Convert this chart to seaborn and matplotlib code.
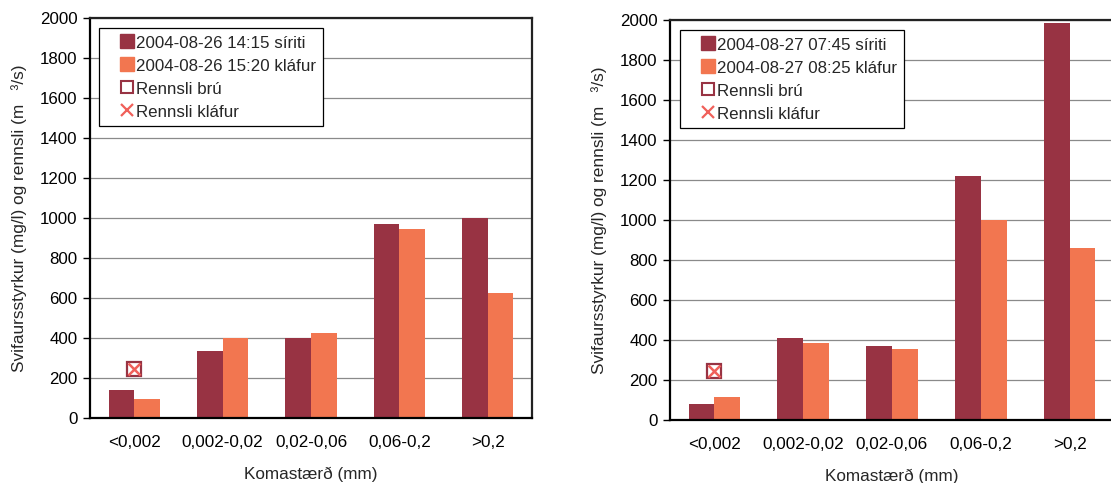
import matplotlib
matplotlib.use("Agg")
import matplotlib.pyplot as plt
from matplotlib.lines import Line2D
from matplotlib.legend_handler import HandlerLine2D
import seaborn as sns
import pandas as pd

# Grain size classes (mm)
categories = ["<0,002", "0,002-0,02", "0,02-0,06", "0,06-0,2", ">0,2"]

# 26 August 2004
series_a1_label = "2004-08-26 14:15 síriti"
series_a2_label = "2004-08-26 15:20 kláfur"
series_a1 = [140, 335, 400, 970, 1000]
series_a2 = [95, 400, 425, 945, 625]
flow_a_bridge = 245
flow_a_cable = 245

# 27 August 2004
series_b1_label = "2004-08-27 07:45 síriti"
series_b2_label = "2004-08-27 08:25 kláfur"
series_b1 = [80, 410, 370, 1220, 1985]
series_b2 = [115, 385, 355, 1000, 860]
flow_b_bridge = 245
flow_b_cable = 245

yticks = list(range(0, 2001, 200))

DARK = "#983343"
LIGHT = "#f27650"
XRED = "#f0605a"

sns.set_theme(style="white")
plt.rcParams["font.family"] = ["Liberation Sans", "DejaVu Sans"]
plt.rcParams["font.size"] = 12

fig = plt.figure(figsize=(11.11, 4.83), dpi=100)
ax1 = fig.add_axes([90 / 1111, 65 / 483, 442 / 1111, 400 / 483])
ax2 = fig.add_axes([670 / 1111, 63 / 483, 444 / 1111, 400 / 483])


def draw_panel(ax, s1, s2, lab1, lab2, q_bridge, q_cable, legend_x, legend_y):
    df = pd.DataFrame({
        "cls": categories * 2,
        "val": s1 + s2,
        "ser": [lab1] * len(categories) + [lab2] * len(categories),
    })
    ax.set_axisbelow(True)
    for y in yticks[1:]:
        ax.axhline(y, color="#8a8a8a", lw=0.9, zorder=0)
    sns.barplot(data=df, x="cls", y="val", hue="ser", order=categories,
                hue_order=[lab1, lab2], palette=[DARK, LIGHT],
                width=0.58, gap=0, saturation=1, errorbar=None,
                legend=False, linewidth=0, ax=ax, zorder=2)
    # discharge markers at the first class
    ax.plot([0], [q_bridge], marker="s", ms=10, mfc="none", mec=DARK,
            mew=1.6, ls="none", zorder=4)
    ax.plot([0], [q_cable], marker="x", ms=8, mec=XRED, mew=1.8,
            ls="none", zorder=5)

    ax.set_xlim(-0.5, 4.5)
    ax.set_ylim(0, 2000)
    ax.set_yticks(yticks)
    ax.set_yticklabels([str(v) for v in yticks], fontsize=12.2)
    ax.set_xticks(range(len(categories)))
    ax.set_xticklabels(categories, fontsize=12.3)
    ax.set_xticks([i - 0.5 for i in range(len(categories) + 1)], minor=True)
    ax.tick_params(axis="x", which="major", length=0, pad=12, colors="black")
    ax.tick_params(axis="x", which="minor", length=5, width=1,
                   direction="out", color="black")
    ax.tick_params(axis="y", length=5, width=1, direction="out",
                   color="black", pad=4, colors="black", left=True)
    for side in ["left", "bottom"]:
        ax.spines[side].set_color("black")
        ax.spines[side].set_linewidth(1.6)
    for side in ["top", "right"]:
        ax.spines[side].set_visible(True)
        ax.spines[side].set_color("#222222")
        ax.spines[side].set_linewidth(1.6)

    ax.set_xlabel("Komastærð (mm)", fontsize=12.3, labelpad=12)
    ax.set_ylabel("Svifaursstyrkur (mg/l) og rennsli (m   ³/s)",
                  fontsize=12.4, labelpad=9)

    handles = [
        Line2D([], [], marker="s", ms=10, mfc=DARK, mec=DARK, ls="none"),
        Line2D([], [], marker="s", ms=10, mfc=LIGHT, mec=LIGHT, ls="none"),
        Line2D([], [], marker="s", ms=9, mfc="none", mec=DARK, mew=1.5,
               ls="none"),
        Line2D([], [], marker="x", ms=8.5, mec=XRED, mew=1.6, ls="none"),
    ]
    shifted = HandlerLine2D(xpad=0.8)
    leg = ax.legend(handles, [lab1, lab2, "Rennsli brú", "Rennsli kláfur"],
                    handler_map={h: shifted for h in handles},
                    loc="upper left", bbox_to_anchor=(legend_x, legend_y),
                    frameon=True, fancybox=False, edgecolor="black",
                    framealpha=1, fontsize=12.2, handlelength=1.75,
                    handleheight=0.9, handletextpad=0.05, labelspacing=0.42,
                    borderpad=0.4, borderaxespad=0)
    leg.get_frame().set_linewidth(0.9)


draw_panel(ax1, series_a1, series_a2, series_a1_label, series_a2_label,
           flow_a_bridge, flow_a_cable, 0.02, 0.975)
draw_panel(ax2, series_b1, series_b2, series_b1_label, series_b2_label,
           flow_b_bridge, flow_b_cable, 0.022, 0.975)

fig.savefig("out.png", dpi=100)
